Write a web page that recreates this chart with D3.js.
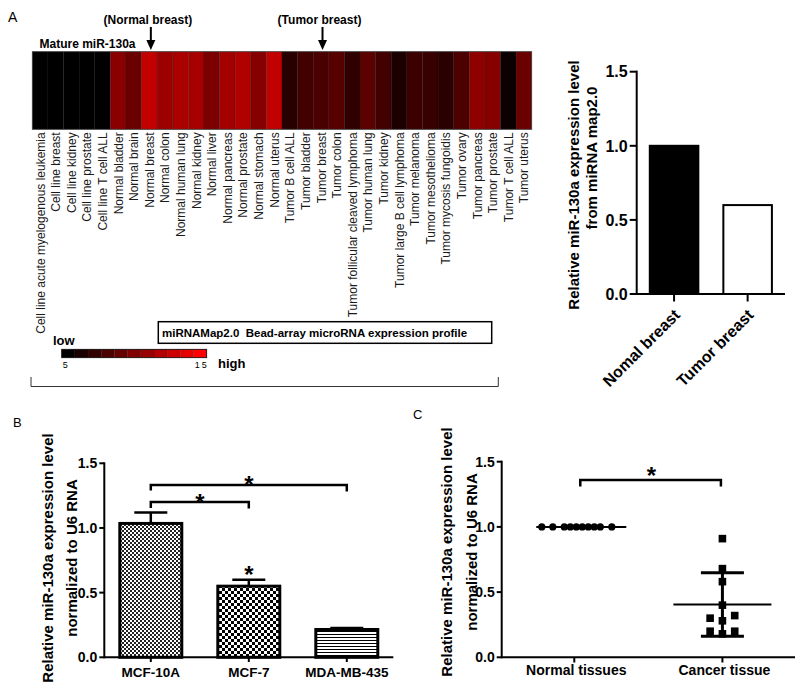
<!DOCTYPE html>
<html><head><meta charset="utf-8">
<script src="https://cdnjs.cloudflare.com/ajax/libs/d3/7.8.5/d3.min.js"></script>
<style>
body{margin:0;background:#fff}
svg{display:block}
text{font-family:"Liberation Sans",Arial,sans-serif}
</style>
</head><body><svg id="fig" width="800" height="697"></svg>
<script>
// ---------------- DATA ----------------
const tissues = [
  "Cell line acute myelogenous leukemia","Cell line breast","Cell line kidney","Cell line prostate","Cell line T cell ALL",
  "Normal bladder","Normal brain","Normal breast","Normal colon","Normal human lung","Normal kidney","Normal liver",
  "Normal pancreas","Normal prostate","Normal stomach","Normal uterus",
  "Tumor B cell ALL","Tumor bladder","Tumor breast","Tumor colon","Tumor follicular cleaved lymphoma","Tumor human lung",
  "Tumor kidney","Tumor large B cell lymphoma","Tumor melanoma","Tumor mesothelioma","Tumor mycosis fungoidis",
  "Tumor ovary","Tumor pancreas","Tumor prostate","Tumor T cell ALL","Tumor uterus"
];
const heatValues = [5.0,5.0,5.0,5.0,5.0,
  10.4,9.2,12.6,11.1,11.7,11.5,9.9,11.4,11.9,10.3,12.6,
  6.6,7.6,7.9,8.4,6.9,8.6,7.6,6.1,7.4,7.2,6.7,8.0,10.6,10.3,5.5,9.2];
const colorDomain = [5, 15];
const colorSteps = [5,6,7,8,9,10,11,12,13,14,15];

const barACategories = ["Nomal breast","Tumor breast"];
const barAValues = [1.0, 0.6];

const cellLines = ["MCF-10A","MCF-7","MDA-MB-435"];
const cellValues = [1.035, 0.55, 0.215];
const cellErrors = [0.085, 0.05, 0.012];

const groupsC = ["Normal tissues","Cancer tissue"];
const normalValues = [1,1,1,1,1,1,1,1,1,1];
const normalJitter = [-6.5,-4.3,-2,-0.8,0.4,1.6,2.8,4,5.2,7.5];
const cancerValues = [0.91,0.68,0.58,0.40,0.30,0.32,0.28,0.20,0.20,0.18];
const cancerJitter = [0,0,0,0,-1,1,0,-1,1,0];

const yTicks = [0, 0.5, 1.0, 1.5];

// ---------------- SETUP ----------------
const svg = d3.select("#fig");
svg.append("rect").attr("width",800).attr("height",697).attr("fill","#fff");
const defs = svg.append("defs");
const fmt = d3.format(".1f");

// ---------------- PANEL A : heatmap ----------------
const color = d3.scaleLinear().domain(colorDomain).range(["#000000","#ff0000"]);
const hx = d3.scaleBand().domain(tissues).range([32.3, 531.7]);
const hy0 = 51.7, hy1 = 129.3;

svg.append("text").attr("x",8).attr("y",21.5).attr("font-size",14).text("A");

const heat = svg.append("g");
heat.selectAll("rect.cell").data(tissues).join("rect").attr("class","cell")
  .attr("x",d=>hx(d)).attr("y",hy0).attr("width",hx.bandwidth()).attr("height",hy1-hy0)
  .attr("fill",(d,i)=>color(heatValues[i]))
  .attr("stroke","rgba(0,0,0,0.35)").attr("stroke-width",0.6);
heat.append("rect").attr("x",32.3).attr("y",hy0).attr("width",531.7-32.3).attr("height",hy1-hy0)
  .attr("fill","none").attr("stroke","#444").attr("stroke-width",0.8);

heat.selectAll("text.lab").data(tissues).join("text").attr("class","lab")
  .attr("transform",d=>`translate(${hx(d)+hx.bandwidth()/2+4.5},${hy1+3}) rotate(-90)`)
  .attr("text-anchor","end").attr("font-size",12).attr("fill","#1a1a1a").text(d=>d);

svg.append("text").attr("x",39.5).attr("y",48).attr("font-size",12).attr("font-weight","bold").text("Mature miR-130a");

function arrowAnnot(name, label){
  const cx = hx(name)+hx.bandwidth()/2+1.5;
  svg.append("text").attr("x",cx-3).attr("y",24).attr("text-anchor","middle")
    .attr("font-size",12).attr("font-weight","bold").text(label);
  svg.append("line").attr("x1",cx).attr("x2",cx).attr("y1",27).attr("y2",42)
    .attr("stroke","#000").attr("stroke-width",2);
  svg.append("path").attr("d",`M${cx-4.5},40 L${cx+4.5},40 L${cx},50 Z`).attr("fill","#000");
}
arrowAnnot("Normal breast","(Normal breast)");
arrowAnnot("Tumor breast","(Tumor breast)");

// legend box
svg.append("rect").attr("x",158.3).attr("y",321.7).attr("width",333.4).attr("height",21.6)
  .attr("fill","#fff").attr("stroke","#000").attr("stroke-width",1.5);
svg.append("text").attr("x",162).attr("y",336.5).attr("font-size",11.5).attr("font-weight","bold")
  .attr("xml:space","preserve").text("miRNAMap2.0  Bead-array microRNA expression profile");

// colour bar
const cbx = d3.scaleBand().domain(colorSteps).range([61.7, 206.7]);
svg.append("g").selectAll("rect").data(colorSteps).join("rect")
  .attr("x",d=>cbx(d)).attr("y",349.3).attr("width",cbx.bandwidth()).attr("height",8.4)
  .attr("fill",d=>color(d)).attr("stroke","rgba(0,0,0,0.3)").attr("stroke-width",0.6);
svg.append("rect").attr("x",61.7).attr("y",349.3).attr("width",145).attr("height",8.4)
  .attr("fill","none").attr("stroke","#111").attr("stroke-width",0.8);
svg.append("text").attr("x",53).attr("y",345).attr("font-size",13).attr("font-weight","bold").text("low");
svg.append("text").attr("x",218).attr("y",367.5).attr("font-size",13).attr("font-weight","bold").text("high");
svg.append("text").attr("x",cbx(colorSteps[0])+1).attr("y",368).attr("font-size",9)
  .attr("font-family","Liberation Serif, serif").text(colorDomain[0]);
svg.append("text").attr("x",cbx(colorSteps[colorSteps.length-1])+cbx.bandwidth()+2).attr("y",368)
  .attr("text-anchor","end").attr("font-size",9).attr("letter-spacing",2)
  .attr("font-family","Liberation Serif, serif").text(colorDomain[1]);

// bracket under panel A
svg.append("path").attr("d","M31,377 V386.5 H498.3 V377").attr("fill","none")
  .attr("stroke","#333").attr("stroke-width",1);

// ---------------- generic axis helpers ----------------
function yAxis(g, y, x0, tickLen, fs){
  g.append("line").attr("x1",x0).attr("x2",x0).attr("y1",y(0)+1).attr("y2",y(1.5)-1)
    .attr("stroke","#000").attr("stroke-width",2);
  yTicks.forEach(t=>{
    g.append("line").attr("x1",x0-tickLen).attr("x2",x0).attr("y1",y(t)).attr("y2",y(t))
      .attr("stroke","#000").attr("stroke-width",2);
    g.append("text").attr("x",x0-tickLen-2).attr("y",y(t)).attr("dy","0.36em")
      .attr("text-anchor","end").attr("font-size",fs).attr("font-weight","bold").text(fmt(t));
  });
}
function yTitle(g, xa, xb, cy, l1, l2, fs, cy2){
  g.append("text").attr("transform",`translate(${xa},${cy}) rotate(-90)`).attr("text-anchor","middle")
    .attr("font-size",fs).attr("font-weight","bold").text(l1);
  g.append("text").attr("transform",`translate(${xb},${cy2===undefined?cy:cy2}) rotate(-90)`).attr("text-anchor","middle")
    .attr("font-size",fs).attr("font-weight","bold").text(l2);
}
function star(g, x, baseline){
  g.append("text").attr("x",x).attr("y",baseline).attr("text-anchor","middle")
    .attr("font-size",24).attr("font-weight","bold").text("*");
}

// ---------------- PANEL A : bar chart ----------------
{
  const g = svg.append("g");
  const y = d3.scaleLinear().domain([0,1.5]).range([294, 71.7]);
  const x = d3.scaleBand().domain(barACategories).range([636.7, 785]).paddingInner(0.34).paddingOuter(0.178);
  g.selectAll("rect.bar").data(barACategories).join("rect").attr("class","bar")
    .attr("x",d=>x(d)).attr("width",x.bandwidth())
    .attr("y",(d,i)=>y(barAValues[i])).attr("height",(d,i)=>y(0)-y(barAValues[i]))
    .attr("fill",(d,i)=>i===0?"#000":"#fff").attr("stroke","#000").attr("stroke-width",2);
  yAxis(g, y, 636.7, 7, 16);
  g.append("line").attr("x1",636.7).attr("x2",785).attr("y1",294).attr("y2",294).attr("stroke","#000").attr("stroke-width",2);
  barACategories.forEach(c=>{
    const cx = x(c)+x.bandwidth()/2;
    g.append("line").attr("x1",cx).attr("x2",cx).attr("y1",294).attr("y2",301.5).attr("stroke","#000").attr("stroke-width",2);
    g.append("text").attr("transform",`translate(${cx+7},${316}) rotate(-45)`).attr("text-anchor","end")
      .attr("font-size",16).attr("font-weight","bold").text(c);
  });
  yTitle(g, 578.5, 597, 185, "Relative miR-130a expression level", "from miRNA map2.0", 15, 158);
}

// ---------------- PANEL B ----------------
{
  // patterns
  const p1 = defs.append("pattern").attr("id","pB1").attr("patternUnits","userSpaceOnUse").attr("width",4).attr("height",4);
  p1.append("rect").attr("width",4).attr("height",4).attr("fill","#fff");
  p1.append("rect").attr("width",2).attr("height",2).attr("fill","#222");
  p1.append("rect").attr("x",2).attr("y",2).attr("width",2).attr("height",2).attr("fill","#222");
  const p2 = defs.append("pattern").attr("id","pB2").attr("patternUnits","userSpaceOnUse").attr("width",6).attr("height",6);
  p2.append("rect").attr("width",6).attr("height",6).attr("fill","#fff");
  p2.append("rect").attr("width",3).attr("height",3).attr("fill","#000");
  p2.append("rect").attr("x",3).attr("y",3).attr("width",3).attr("height",3).attr("fill","#000");
  const p3 = defs.append("pattern").attr("id","pB3").attr("patternUnits","userSpaceOnUse").attr("width",6).attr("height",3);
  p3.append("rect").attr("width",6).attr("height",3).attr("fill","#fff");
  p3.append("rect").attr("y",1).attr("width",6).attr("height",1).attr("fill","#000");
  const fills = ["url(#pB1)","url(#pB2)","url(#pB3)"];

  const g = svg.append("g");
  svg.append("text").attr("x",13).attr("y",427).attr("font-size",13).text("B");
  const y = d3.scaleLinear().domain([0,1.5]).range([657.3, 463.3]);
  const x = d3.scaleBand().domain(cellLines).range([104.3, 393.3]).paddingInner(0.337).paddingOuter(0.143);
  const cx = d=>x(d)+x.bandwidth()/2;

  // error bars (upper)
  cellLines.forEach((c,i)=>{
    const top = y(cellValues[i]+cellErrors[i]);
    g.append("line").attr("x1",cx(c)).attr("x2",cx(c)).attr("y1",y(cellValues[i])).attr("y2",top)
      .attr("stroke","#000").attr("stroke-width",2.5);
    g.append("line").attr("x1",cx(c)-16.5).attr("x2",cx(c)+16.5).attr("y1",top).attr("y2",top)
      .attr("stroke","#000").attr("stroke-width",2.5);
  });
  g.selectAll("rect.bar").data(cellLines).join("rect").attr("class","bar")
    .attr("x",d=>x(d)+1.5).attr("width",x.bandwidth()-3)
    .attr("y",(d,i)=>y(cellValues[i])).attr("height",(d,i)=>y(0)-y(cellValues[i]))
    .attr("fill",(d,i)=>fills[i]).attr("stroke","#000").attr("stroke-width",3);

  yAxis(g, y, 104.3, 5, 14);
  g.append("line").attr("x1",104.3).attr("x2",393.3).attr("y1",657.3).attr("y2",657.3).attr("stroke","#000").attr("stroke-width",2);
  cellLines.forEach(c=>{
    g.append("line").attr("x1",cx(c)).attr("x2",cx(c)).attr("y1",657.3).attr("y2",662).attr("stroke","#000").attr("stroke-width",2);
    g.append("text").attr("x",cx(c)).attr("y",676.5).attr("text-anchor","middle")
      .attr("font-size",13.5).attr("font-weight","bold").text(c);
  });
  yTitle(g, 52.5, 77, 558, "Relative miR-130a expression level", "normalized to U6 RNA", 15);

  // significance
  function bracket(a, b, v, dl, dr){
    const yy = y(v);
    g.append("path").attr("d",`M${cx(a)},${yy+dl} V${yy} H${cx(b)} V${yy+dr}`)
      .attr("fill","none").attr("stroke","#000").attr("stroke-width",2.5);
    star(g, (cx(a)+cx(b))/2, yy+8.5);
  }
  bracket(cellLines[0], cellLines[2], 1.333, 5.5, 6.5);
  bracket(cellLines[0], cellLines[1], 1.2, 6, 6.5);
  star(g, cx(cellLines[1]), y(cellValues[1]+cellErrors[1])+3);
}

// ---------------- PANEL C ----------------
{
  const g = svg.append("g");
  svg.append("text").attr("x",413).attr("y",419).attr("font-size",13).text("C");
  const y = d3.scaleLinear().domain([0,1.5]).range([657.3, 461.7]);
  const x = d3.scalePoint().domain(groupsC).range([501.7, 795]).padding(0.49);

  yAxis(g, y, 501.7, 5, 14);
  g.append("line").attr("x1",501.7).attr("x2",795).attr("y1",657.3).attr("y2",657.3).attr("stroke","#000").attr("stroke-width",2);
  groupsC.forEach(c=>{
    g.append("line").attr("x1",x(c)).attr("x2",x(c)).attr("y1",657.3).attr("y2",662.5).attr("stroke","#000").attr("stroke-width",2);
    g.append("text").attr("x",x(c)+2).attr("y",675).attr("text-anchor","middle")
      .attr("font-size",14).attr("font-weight","bold").text(c);
  });
  yTitle(g, 452, 477, 552, "Relative miR-130a expression level", "normalized to U6 RNA", 15);

  // normal: mean line + dots
  const nMean = d3.mean(normalValues);
  g.append("line").attr("x1",x(groupsC[0])-38).attr("x2",x(groupsC[0])+52).attr("y1",y(nMean)).attr("y2",y(nMean))
    .attr("stroke","#000").attr("stroke-width",2);
  g.selectAll("circle").data(normalValues).join("circle")
    .attr("cx",(d,i)=>x(groupsC[0])+normalJitter[i]*5).attr("cy",d=>y(d)).attr("r",3.6).attr("fill","#000");

  // cancer: mean, SD
  const cMean = d3.mean(cancerValues), cSD = d3.deviation(cancerValues);
  const c1 = x(groupsC[1]);
  g.append("line").attr("x1",c1-49).attr("x2",c1+49).attr("y1",y(cMean)).attr("y2",y(cMean))
    .attr("stroke","#000").attr("stroke-width",2);
  g.append("line").attr("x1",c1).attr("x2",c1).attr("y1",y(cMean+cSD)).attr("y2",y(cMean-cSD))
    .attr("stroke","#000").attr("stroke-width",3);
  [cMean+cSD, cMean-cSD].forEach(v=>{
    g.append("line").attr("x1",c1-21.5).attr("x2",c1+21.5).attr("y1",y(v)).attr("y2",y(v))
      .attr("stroke","#000").attr("stroke-width",3);
  });
  g.selectAll("rect.sq").data(cancerValues).join("rect").attr("class","sq")
    .attr("x",(d,i)=>c1+cancerJitter[i]*12.3-3.8).attr("y",d=>y(d)-3.8)
    .attr("width",7.6).attr("height",7.6).attr("fill","#000");

  // significance bracket
  const by = y(1.36);
  g.append("path").attr("d",`M${x(groupsC[0])+6},${by+6.5} V${by} H${c1-1.5} V${by+6.5}`)
    .attr("fill","none").attr("stroke","#000").attr("stroke-width",2.5);
  star(g, (x(groupsC[0])+6+c1)/2, by+4);
}
</script>
</body></html>
